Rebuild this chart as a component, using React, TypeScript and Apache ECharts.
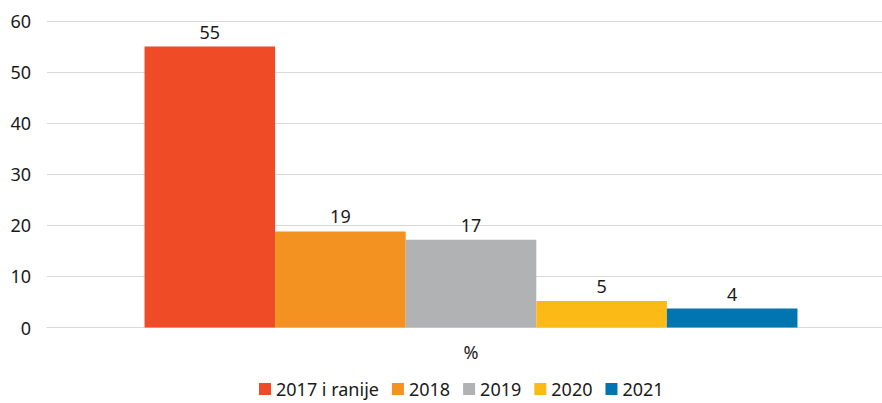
import React, { useEffect, useRef } from "react";
import * as echarts from "echarts";

const categories = ["%"];
const seriesNames = ["2017 i ranije", "2018", "2019", "2020", "2021"];
const seriesValues = [55, 18.8, 17.2, 5.2, 3.7];
const seriesColors = ["#EE4B26", "#F39220", "#B1B2B3", "#FBBA16", "#0075B0"];
const yTicks = { min: 0, max: 60, interval: 10 };

const FONT = "'Noto Sans', sans-serif";
const CHART_W = 900;

export default function App() {
  const ref = useRef<HTMLDivElement>(null);
  useEffect(() => {
    if (!ref.current) return;
    const chart = echarts.init(ref.current, null, { renderer: "svg" });
    chart.setOption({
      animation: false,
      textStyle: { fontFamily: FONT },
      grid: { left: 47, top: 21, width: 848, height: 306.5, outerBoundsMode: "none" },
      legend: {
        top: 378,
        left: 259,
        padding: 0,
        itemWidth: 12,
        itemHeight: 12,
        itemGap: 13,
        icon: "rect",
        textStyle: { fontSize: 18, color: "#1a1a1a", fontFamily: FONT, lineHeight: 22 },
        data: seriesNames,
      },
      xAxis: {
        type: "category",
        data: categories,
        axisLine: { lineStyle: { color: "#d9d9d9", width: 1 } },
        axisTick: { show: false },
        axisLabel: { fontSize: 18, color: "#1a1a1a", margin: 15, fontFamily: FONT },
      },
      yAxis: {
        type: "value",
        min: yTicks.min,
        max: yTicks.max,
        interval: yTicks.interval,
        axisLine: { show: false },
        axisTick: { show: false },
        splitLine: { lineStyle: { color: "#d9d9d9", width: 1 } },
        axisLabel: { fontSize: 18, color: "#1a1a1a", margin: 16, fontFamily: FONT },
      },
      series: seriesNames.map((name, i) => ({
        name,
        type: "bar",
        barGap: "0%",
        barCategoryGap: "23%",
        data: [seriesValues[i]],
        itemStyle: { color: seriesColors[i] },
        label: {
          show: true,
          position: "top",
          distance: 6,
          fontSize: 18,
          color: "#1a1a1a",
          fontFamily: FONT,
          formatter: (p: any) => String(Math.round(p.value)),
        },
      })),
    });
    return () => chart.dispose();
  }, []);
  return (
    <div style={{ position: "absolute", left: 0, top: 0, width: 882, height: 403, overflow: "hidden" }}>
      <div ref={ref} style={{ width: CHART_W, height: 403 }} />
    </div>
  );
}
